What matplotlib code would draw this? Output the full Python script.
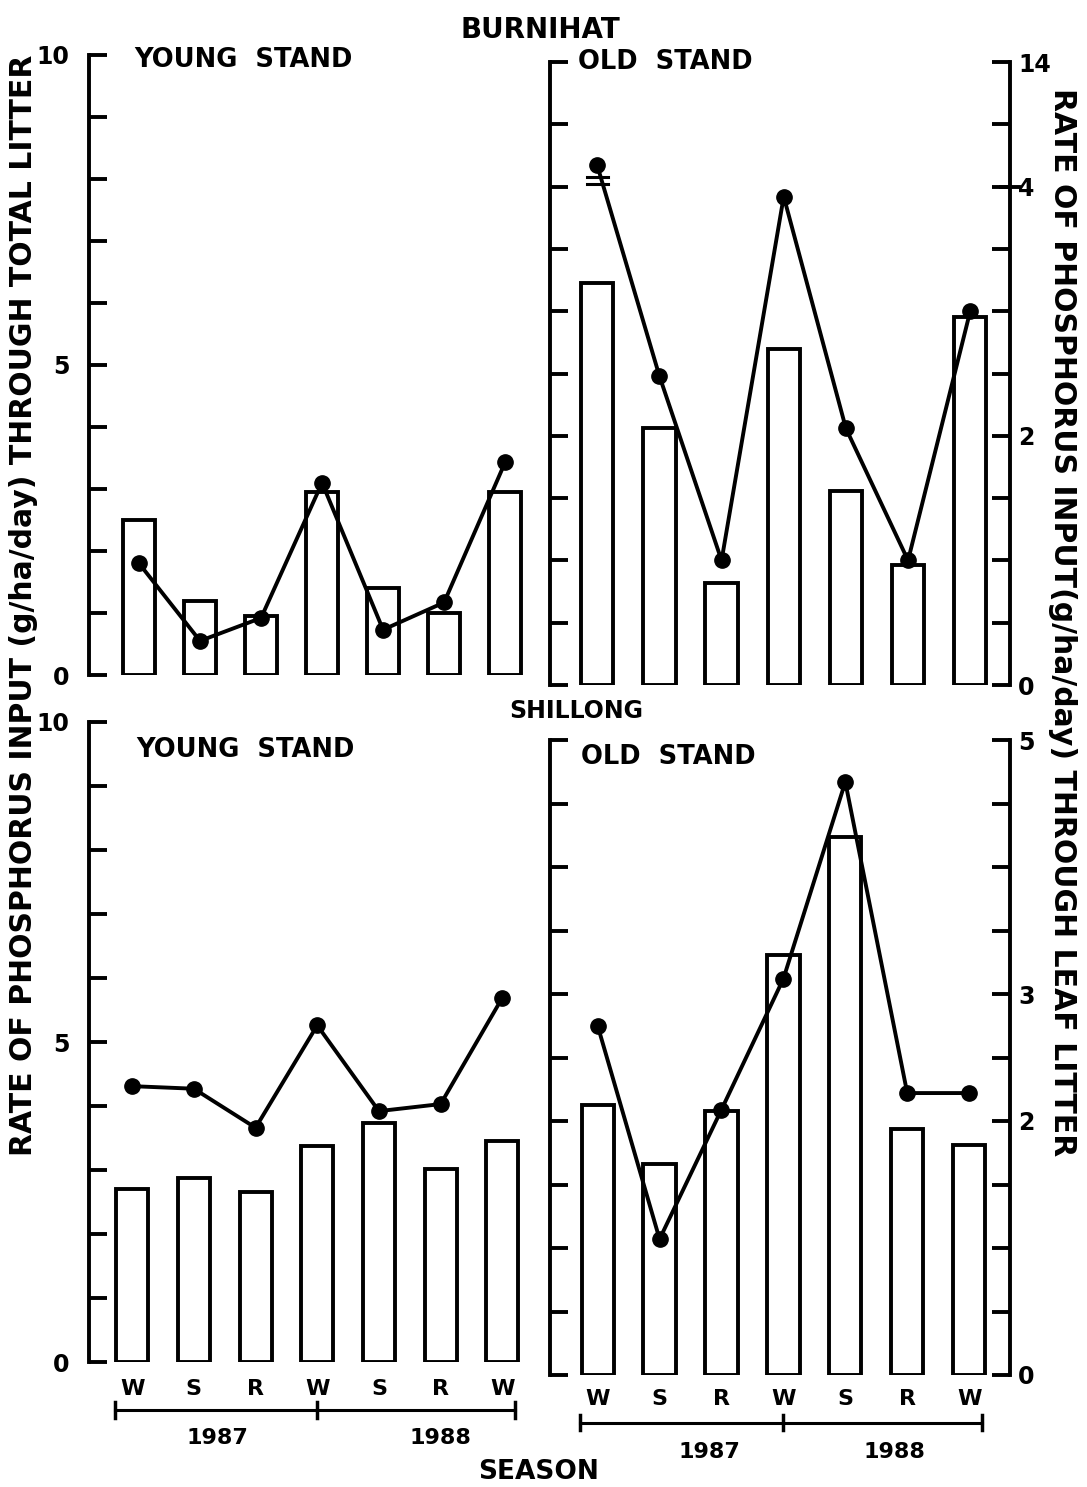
import matplotlib.pyplot as plt
import numpy as np

W, H = 1087, 1487

seasons = ['W', 'S', 'R', 'W', 'S', 'R', 'W']
years = ['1987', '1988']

# Burnihat (bars: total litter, left axis; line: leaf litter)
burni_young_bars = [2.5, 1.2, 0.95, 2.95, 1.4, 1.0, 2.95]
burni_young_line = [1.8, 0.55, 0.92, 3.1, 0.73, 1.17, 3.43]
burni_old_bars = [6.45, 4.12, 1.63, 5.4, 3.12, 1.92, 5.9]
burni_old_line = [4.17, 2.48, 1.0, 3.92, 2.06, 1.0, 3.0]   # first point is above the axis break

# Shillong
shil_young_bars = [2.71, 2.88, 2.66, 3.37, 3.74, 3.02, 3.46]
shil_young_line = [4.31, 4.27, 3.66, 5.26, 3.92, 4.03, 5.69]
shil_old_bars = [4.25, 3.32, 4.16, 6.62, 8.48, 3.88, 3.62]
shil_old_line = [2.75, 1.07, 2.09, 3.12, 4.67, 2.22, 2.22]

top_right_labels = {0: '0', 2: '2', 4: '4', 5: '14'}
bot_right_labels = {0: '0', 2: '2', 3: '3', 5: '5'}

plt.rcParams['font.family'] = 'DejaVu Sans'
plt.rcParams['font.weight'] = 'bold'

fig = plt.figure(figsize=(W / 100, H / 100), dpi=100)


def box(x0, x1, ytop, ybot):
    return [x0 / W, 1 - ybot / H, (x1 - x0) / W, (ybot - ytop) / H]


def ftext(x, y, s, size=16, **kw):
    fig.text(x / W, 1 - y / H, s, ha='center', va='center',
             fontsize=size, fontweight='bold', **kw)


x = np.arange(len(seasons))
LW = 2.8


def panel(rect, xlim, bars, line, right=None):
    ax = fig.add_axes(rect)
    ax.bar(x, bars, width=0.52, fill=False, edgecolor='black', linewidth=LW)
    ax.set_xlim(*xlim)
    ax.set_ylim(0, 10)
    ax.set_yticks(range(11))
    for s in ['top', 'bottom', 'right']:
        ax.spines[s].set_visible(False)
    ax.spines['left'].set_linewidth(LW)
    ax.tick_params(axis='y', direction='in', length=13, width=LW,
                   labelsize=17, pad=14)
    ax.set_xticks([])
    if right is None:
        ax.set_yticklabels(['0', '', '', '', '', '5', '', '', '', '', '10'])
        ax.plot(x, line, 'k-', lw=LW, marker='o', ms=11, clip_on=False)
        return ax, ax
    ax.set_yticklabels([])
    ax2 = ax.twinx()
    ax2.set_ylim(0, 5)
    ticks = np.arange(0, 5.01, 0.5)
    ax2.set_yticks(ticks)
    ax2.set_yticklabels([right.get(t, '') if float(t).is_integer() else ''
                         for t in ticks])
    for s in ['top', 'bottom', 'left']:
        ax2.spines[s].set_visible(False)
    ax2.spines['right'].set_linewidth(LW)
    ax2.tick_params(axis='y', direction='in', length=13, width=LW,
                    labelsize=17, pad=6)
    ax2.plot(x, line, 'k-', lw=LW, marker='o', ms=11, clip_on=False)
    return ax, ax2


def seasons_axis(ax, pad, bracket_y, year_y, year_x):
    ax.set_xticks(x)
    ax.set_xticklabels(seasons, fontsize=16, fontweight='bold')
    ax.tick_params(axis='x', length=0, pad=pad)
    tr = ax.get_xaxis_transform()
    ax.plot([-0.28, 6.2], [bracket_y, bracket_y], 'k-', lw=2.2,
            transform=tr, clip_on=False)
    for xv in [-0.28, 3, 6.2]:
        ax.plot([xv, xv], [bracket_y - 0.012, bracket_y + 0.012], 'k-',
                lw=2.5, transform=tr, clip_on=False)
    for yr, xv in zip(years, year_x):
        ax.text(xv, year_y, yr, transform=tr, ha='center', va='center',
                fontsize=16, fontweight='bold')


# Top-left: Burnihat young stand
axA, _ = panel(box(89, 535, 55, 675), (-0.82, 6.49),
               burni_young_bars, burni_young_line)

# Top-right: Burnihat old stand (right axis broken at 4)
axB, axB2 = panel(box(550, 1010, 62, 685), (-0.76, 6.64),
                  burni_old_bars, burni_old_line, right=top_right_labels)
p0 = burni_old_line[0]
for dy in [0.09, 0.15]:
    axB2.plot([-0.17, 0.17], [p0 - dy, p0 - dy], 'k-', lw=2.2, clip_on=False)
axB2.plot([6.5, 6.78], [4.0, 4.0], 'k-', lw=LW, clip_on=False)

# Bottom-left: Shillong young stand
axC, _ = panel(box(89, 535, 722, 1362), (-0.7, 6.53),
               shil_young_bars, shil_young_line)
seasons_axis(axC, 12, -0.075, -0.118, [1.38, 5.0])

# Bottom-right: Shillong old stand
axD, axD2 = panel(box(550, 1010, 740, 1375), (-0.77, 6.66),
                  shil_old_bars, shil_old_line, right=bot_right_labels)
seasons_axis(axD, 10, -0.075, -0.122, [1.8, 4.8])

# panel titles and site names
ftext(243, 60, 'YOUNG  STAND', size=18.5)
ftext(665, 62, 'OLD  STAND', size=18.5)
ftext(245, 750, 'YOUNG  STAND', size=18.5)
ftext(668, 757, 'OLD  STAND', size=18.5)
ftext(540, 30, 'BURNIHAT', size=20)
ftext(576, 711, 'SHILLONG', size=17)
ftext(539, 1472, 'SEASON', size=19)

# axis titles
ftext(24, 605, 'RATE OF PHOSPHORUS INPUT (g/ha/day) THROUGH TOTAL LITTER',
      size=21.5, rotation=90)
ftext(1062, 622, 'RATE OF PHOSPHORUS INPUT(g/ha/day) THROUGH LEAF LITTER',
      size=21.5, rotation=-90)

fig.savefig('out.png', dpi=100, facecolor='white')
